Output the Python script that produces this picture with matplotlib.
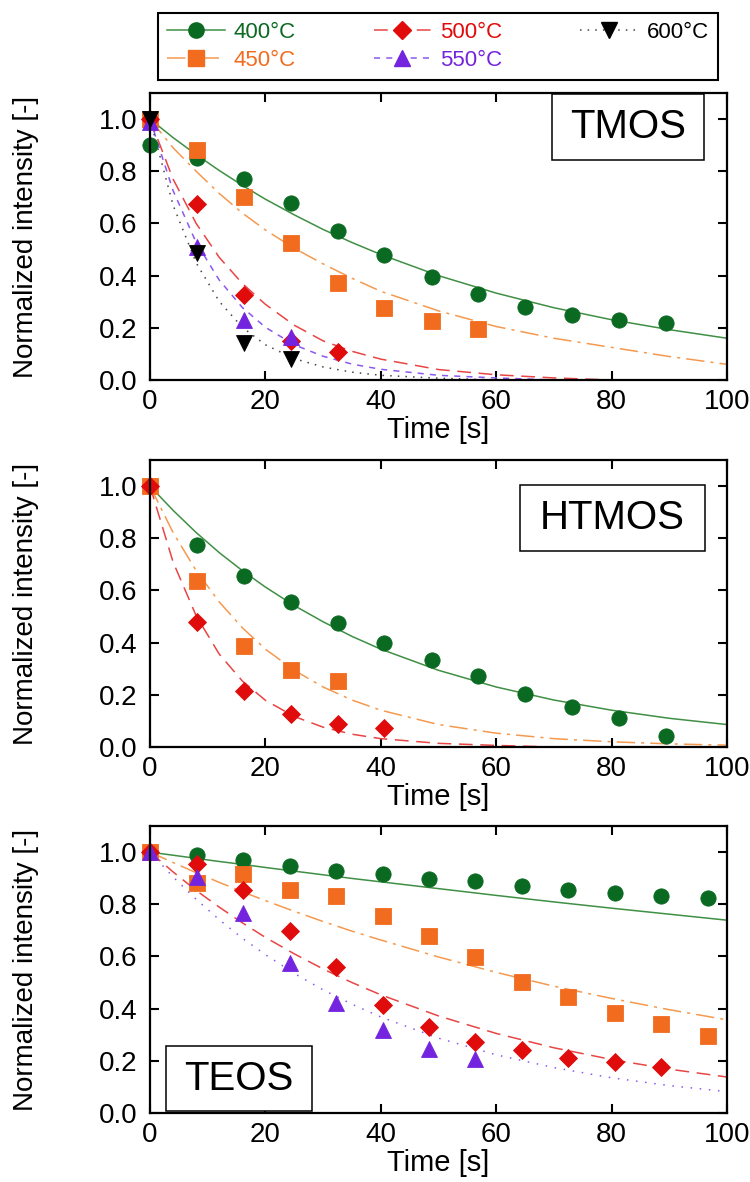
import numpy as np
import matplotlib
matplotlib.use("Agg")
import matplotlib.pyplot as plt
from matplotlib.lines import Line2D
from matplotlib.patches import Rectangle

plt.rcParams['font.family'] = ['Liberation Sans', 'DejaVu Sans']

# ---------------- data ----------------
temps = ['400°C', '450°C', '500°C', '550°C', '600°C']
panels = ['TMOS', 'HTMOS', 'TEOS']

t_tmos = [0, 8.1, 16.3, 24.4, 32.5, 40.6, 48.8, 56.9, 65.0, 73.1, 81.3, 89.4]
t_teos = [0, 8.1, 16.2, 24.2, 32.3, 40.3, 48.3, 56.4, 64.5, 72.5, 80.6, 88.6, 96.7]

# TMOS measured
tmos_400 = [0.90, 0.85, 0.77, 0.68, 0.57, 0.48, 0.395, 0.33, 0.28, 0.25, 0.23, 0.22]
tmos_450 = [1.00, 0.88, 0.70, 0.525, 0.37, 0.275, 0.225, 0.195]
tmos_500 = [1.00, 0.675, 0.325, 0.15, 0.107]
tmos_550 = [0.99, 0.51, 0.23, 0.165]
tmos_600 = [1.00, 0.485, 0.14, 0.082]

# HTMOS measured
htmos_400 = [1.00, 0.773, 0.657, 0.555, 0.475, 0.397, 0.334, 0.272, 0.204, 0.153, 0.112, 0.044]
htmos_450 = [1.00, 0.638, 0.388, 0.294, 0.253]
htmos_500 = [1.00, 0.478, 0.215, 0.125, 0.089, 0.073]

# TEOS measured
teos_400 = [1.00, 0.99, 0.971, 0.948, 0.929, 0.916, 0.898, 0.890, 0.869, 0.856, 0.843, 0.833, 0.824]
teos_450 = [1.00, 0.882, 0.916, 0.856, 0.831, 0.754, 0.678, 0.597, 0.502, 0.445, 0.385, 0.343, 0.296]
teos_500 = [1.00, 0.954, 0.856, 0.697, 0.559, 0.413, 0.331, 0.273, 0.241, 0.209, 0.194, 0.175]
teos_550 = [1.00, 0.904, 0.767, 0.573, 0.420, 0.317, 0.245, 0.206]

# fitted curves
fit_t = [0, 4, 8, 12, 16, 20, 25, 30, 35, 40, 50, 60, 70, 80, 90, 100]
fit_tmos_400 = [1.0, 0.929, 0.864, 0.803, 0.746, 0.693, 0.633, 0.577, 0.527, 0.481, 0.400, 0.333, 0.277, 0.231, 0.193, 0.160]
fit_tmos_450 = [1.0, 0.89, 0.80, 0.715, 0.64, 0.575, 0.505, 0.445, 0.39, 0.34, 0.265, 0.205, 0.16, 0.125, 0.09, 0.06]
fit_tmos_500 = [1.0, 0.77, 0.60, 0.47, 0.37, 0.29, 0.21, 0.15, 0.11, 0.08, 0.04, 0.02, 0.008, 0.0, 0.0, 0.0]
fit_tmos_550 = [1.0, 0.726, 0.527, 0.383, 0.278, 0.202, 0.135, 0.091, 0.061, 0.041, 0.018, 0.008, 0.0, 0.0, 0.0, 0.0]
fit_tmos_600 = [1.0, 0.670, 0.449, 0.301, 0.202, 0.135, 0.082, 0.050, 0.030, 0.018, 0.007, 0.0, 0.0, 0.0, 0.0, 0.0]

fit_htmos_400 = [1.0, 0.907, 0.822, 0.745, 0.676, 0.613, 0.542, 0.480, 0.424, 0.375, 0.294, 0.230, 0.180, 0.141, 0.110, 0.086]
fit_htmos_450 = [1.0, 0.822, 0.676, 0.556, 0.457, 0.375, 0.294, 0.230, 0.180, 0.141, 0.086, 0.053, 0.032, 0.020, 0.012, 0.007]
fit_htmos_500 = [1.0, 0.709, 0.503, 0.356, 0.253, 0.179, 0.117, 0.076, 0.049, 0.032, 0.014, 0.006, 0.0, 0.0, 0.0, 0.0]

fit_teos_400 = [1.0, 0.988, 0.976, 0.964, 0.953, 0.941, 0.927, 0.913, 0.899, 0.886, 0.860, 0.834, 0.809, 0.785, 0.762, 0.739]
fit_teos_450 = [1.0, 0.960, 0.921, 0.884, 0.848, 0.814, 0.773, 0.734, 0.697, 0.663, 0.598, 0.539, 0.486, 0.439, 0.396, 0.357]
fit_teos_500 = [1.0, 0.924, 0.853, 0.789, 0.729, 0.673, 0.610, 0.552, 0.500, 0.453, 0.372, 0.305, 0.250, 0.205, 0.168, 0.138]
fit_teos_550 = [1.0, 0.905, 0.819, 0.741, 0.670, 0.607, 0.535, 0.472, 0.417, 0.368, 0.287, 0.223, 0.174, 0.135, 0.105, 0.082]

# ---------------- styles ----------------
mcolor = {'400°C': '#0b6a22', '450°C': '#f26c1f', '500°C': '#e00b0b', '550°C': '#7424de', '600°C': '#000000'}
lcolor = {'400°C': '#3f8f44', '450°C': '#f5994f', '500°C': '#e84545', '550°C': '#8c58f0', '600°C': '#444444'}
marker = {'400°C': 'o', '450°C': 's', '500°C': 'D', '550°C': '^', '600°C': 'v'}
msize = {'400°C': 11, '450°C': 11, '500°C': 9.5, '550°C': 11, '600°C': 11}
lstyle = {'400°C': '-', '450°C': (0, (12, 4, 2, 4)), '500°C': (0, (9, 5)),
          '550°C': (0, (4, 4)), '600°C': (0, (1, 4))}
text_color = {'400°C': '#0b6a22', '450°C': '#f26c1f', '500°C': '#e00b0b', '550°C': '#7424de', '600°C': '#000000'}

panel_data = {
    'TMOS': [('400°C', t_tmos, tmos_400, fit_tmos_400), ('450°C', t_tmos, tmos_450, fit_tmos_450),
             ('500°C', t_tmos, tmos_500, fit_tmos_500), ('550°C', t_tmos, tmos_550, fit_tmos_550),
             ('600°C', t_tmos, tmos_600, fit_tmos_600)],
    'HTMOS': [('400°C', t_tmos, htmos_400, fit_htmos_400), ('450°C', t_tmos, htmos_450, fit_htmos_450),
              ('500°C', t_tmos, htmos_500, fit_htmos_500)],
    'TEOS': [('400°C', t_teos, teos_400, fit_teos_400), ('450°C', t_teos, teos_450, fit_teos_450),
             ('500°C', t_teos, teos_500, fit_teos_500), ('550°C', t_teos, teos_550, fit_teos_550)],
}
# label boxes in axes coords (x0, y0, x1, y1)
label_box = {'TMOS': (0.697, 0.767, 0.960, 0.997),
             'HTMOS': (0.641, 0.683, 0.962, 0.913),
             'TEOS': (0.028, 0.007, 0.281, 0.233)}

W, H = 750, 1182
fig = plt.figure(figsize=(W / 100, H / 100), dpi=100)

ax_bottoms_px = [380, 747, 1113]
ax_h_px = 287
for name, bpx in zip(panels, ax_bottoms_px):
    ax = fig.add_axes([150 / W, 1 - bpx / H, 577 / W, ax_h_px / H])
    for temp, tt, yy, fit in panel_data[name]:
        ls = lstyle[temp]
        if name == 'TEOS' and temp == '550°C':
            ls = (0, (1, 5))
        ax.plot(fit_t, fit, color=lcolor[temp], ls=ls, lw=1.1, zorder=2)
    for temp, tt, yy, fit in panel_data[name]:
        ax.plot(tt[:len(yy)], yy, ls='none', marker=marker[temp], ms=msize[temp],
                mfc=mcolor[temp], mec=mcolor[temp], mew=0.6, clip_on=False, zorder=3)
    ax.set_xlim(0, 100)
    ax.set_ylim(0, 1.1)
    ax.set_xticks([0, 20, 40, 60, 80, 100])
    ax.set_yticks([0.0, 0.2, 0.4, 0.6, 0.8, 1.0])
    ax.set_yticklabels(['0.0', '0.2', '0.4', '0.6', '0.8', '1.0'])
    ax.tick_params(direction='in', length=6.5, width=1.5, top=True, right=True, labelsize=20)
    ax.tick_params(axis='x', pad=6.5)
    ax.tick_params(axis='y', pad=9)
    for sp in ax.spines.values():
        sp.set_linewidth(1.6)
        sp.set_zorder(4)
    ax.set_xlabel('Time [s]', fontsize=21)
    ax.xaxis.set_label_coords(0.5, -0.125)
    ax.set_ylabel('Normalized intensity [-]', fontsize=20)
    ax.yaxis.set_label_coords(-0.192, 0.5)
    x0, y0, x1, y1 = label_box[name]
    ax.add_patch(Rectangle((x0, y0), x1 - x0, y1 - y0, transform=ax.transAxes,
                           facecolor='white', edgecolor='black', lw=1.1, zorder=5, clip_on=False))
    ax.text((x0 + x1) / 2, (y0 + y1) / 2, name, transform=ax.transAxes, fontsize=29,
            ha='center', va='center', zorder=6)

handles = []
for temp in temps:
    handles.append(Line2D([], [], color=lcolor[temp], ls=lstyle[temp], lw=1.1, marker=marker[temp],
                          ms=msize[temp], mfc=mcolor[temp], mec=mcolor[temp]))
leg = fig.legend(handles, temps, loc='center', bbox_to_anchor=(158 / W, 1 - 80 / H, 560 / W, 67 / H),
                 mode='expand', ncol=3, frameon=True, fancybox=False, edgecolor='black',
                 framealpha=1, fontsize=16, handlelength=2.6, handletextpad=0.4,
                 labelspacing=0.3, borderpad=0.4, borderaxespad=0,
                 labelcolor=[text_color[t] for t in temps])
leg.get_frame().set_linewidth(1.5)

fig.savefig('out.png', dpi=100)
